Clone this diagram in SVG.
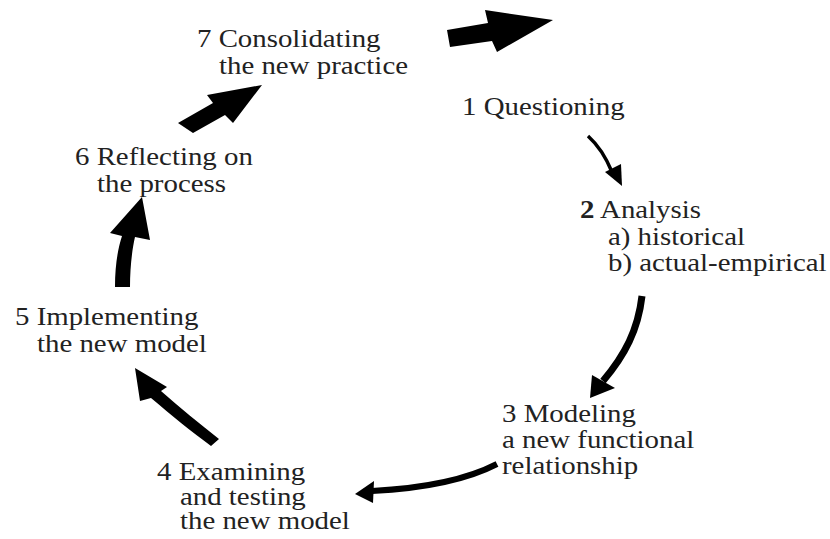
<svg xmlns="http://www.w3.org/2000/svg" width="830" height="539" viewBox="0 0 830 539">
<style>
text{font-family:"Liberation Serif","Times New Roman",serif;font-size:26px;fill:#222}
.blk{fill:#000;stroke:none}
.ln{fill:none;stroke:#000;stroke-linecap:butt}
</style>
<rect width="830" height="539" fill="#fff"/>
<g id="connectors">
<polygon class="blk" points="447,30 488,23 485,10 553,20 497,52 492,41 450,47"/>
<polygon class="blk" points="178,123 213,103 207,95 262,85 233,123 225,115 193,133"/>
<path class="blk" d="M115,287 C115,265 118,248 122,236 L110,233 L142,197 L150,240 L135,237 C132,250 130,268 130,287 Z"/>
<path class="blk" d="M135,368 L167,387 L161,391 C180,408 200,424 219,439 L211,446 C192,432 171,415 151,398 L140,401 Z"/>
<path class="ln" stroke-width="6" d="M497,464 C470,478 430,488 372,491"/>
<polygon class="blk" points="355,494 374,481 373,503"/>
<path class="ln" stroke-width="7" d="M642,296 C638,330 625,355 603,381"/>
<polygon class="blk" points="590,398 592,375 615,388"/>
<path class="ln" stroke-width="3.5" d="M588,136 C598,145 605,155 612,172"/>
<polygon class="blk" points="605,172 621,164 622,186"/>
</g>
<g id="node7">
<text transform="matrix(1.11 0 0 1 197 47)">7 Consolidating</text>
<text transform="matrix(1.11 0 0 1 219 74)">the new practice</text>
</g>
<g id="node1">
<text transform="matrix(1.11 0 0 1 462 115)">1 Questioning</text>
</g>
<g id="node2">
<text transform="matrix(1.11 0 0 1 580 218)"><tspan font-weight="bold">2</tspan> Analysis</text>
<text transform="matrix(1.11 0 0 1 608 245)">a) historical</text>
<text transform="matrix(1.11 0 0 1 608 271)">b) actual-empirical</text>
</g>
<g id="node3">
<text transform="matrix(1.11 0 0 1 502 422)">3 Modeling</text>
<text transform="matrix(1.11 0 0 1 502 448)">a new functional</text>
<text transform="matrix(1.11 0 0 1 502 474)">relationship</text>
</g>
<g id="node4">
<text transform="matrix(1.11 0 0 1 157 480)">4 Examining</text>
<text transform="matrix(1.11 0 0 1 180 505)">and testing</text>
<text transform="matrix(1.11 0 0 1 180 529)">the new model</text>
</g>
<g id="node5">
<text transform="matrix(1.11 0 0 1 15 325)">5 Implementing</text>
<text transform="matrix(1.11 0 0 1 37 352)">the new model</text>
</g>
<g id="node6">
<text transform="matrix(1.11 0 0 1 75 165)">6 Reflecting on</text>
<text transform="matrix(1.11 0 0 1 97 192)">the process</text>
</g>
</svg>
